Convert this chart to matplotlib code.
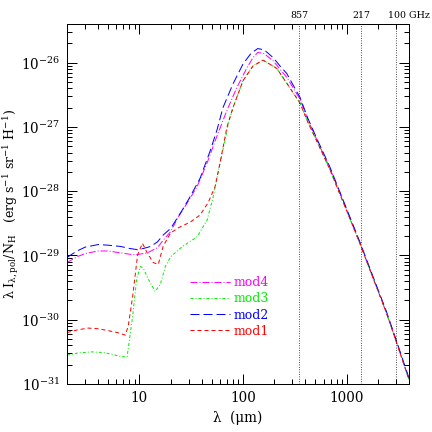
import numpy as np
import matplotlib
matplotlib.use("Agg")
import matplotlib.pyplot as plt
from matplotlib.ticker import LogLocator, FixedLocator, FixedFormatter, NullFormatter

plt.rcParams['font.family'] = ['DejaVu Serif']
plt.rcParams['mathtext.fontset'] = 'dejavuserif'

# ---- data (log10 of lambda*I / N_H) ----
lam_mod2 = [2.0, 2.5, 3.0, 4.0, 5.0, 6.6, 8.0, 9.6, 11.0, 12.8, 14.9, 17.0, 20.0, 26.0, 30.0, 38.5, 48.0, 56.0,
            64.0, 80.0, 100, 120, 139, 160, 195, 230, 265, 300, 355, 421, 515, 684, 915, 1335, 1780, 2420, 3030, 4000]
log_mod2 = [-29.03, -28.93, -28.87, -28.83, -28.84, -28.86, -28.89, -28.91, -28.89, -28.86, -28.79, -28.68, -28.58,
            -28.29, -28.12, -27.80, -27.38, -27.05, -26.70, -26.33, -26.02, -25.85, -25.78, -25.80, -25.92, -26.06,
            -26.17, -26.33, -26.54, -26.86, -27.18, -27.61, -28.12, -28.78, -29.31, -29.87, -30.33, -30.91]

lam_mod4 = [2.0, 2.5, 3.0, 4.0, 5.0, 6.6, 8.0, 9.2, 11.9, 14.9, 17.0, 20.0, 23.7, 29.0, 36.0, 45.0, 54.0, 70.0, 87.0,
            109, 125, 139, 160, 195, 265, 355, 421, 515, 684, 915, 1335, 1780, 2420, 3030, 4000]
log_mod4 = [-29.11, -29.02, -28.97, -28.93, -28.93, -28.96, -28.98, -28.99, -28.96, -28.88, -28.76, -28.63, -28.40,
            -28.18, -27.93, -27.56, -27.21, -26.74, -26.39, -26.08, -25.92, -25.84, -25.86, -25.97, -26.23, -26.57,
            -26.88, -27.20, -27.63, -28.13, -28.80, -29.33, -29.89, -30.35, -30.93]

lam_mod1 = [2.0, 2.5, 3.2, 4.0, 5.0, 6.15, 7.3, 7.8, 8.6, 9.6, 10.7, 11.9, 13.6, 15.2, 17.0, 20.0, 23.7, 31.0, 38.5,
            46.0, 53.7, 60.0, 70.0, 80.0, 100, 125, 156, 212, 283, 355, 421, 515, 684, 915, 1335, 1780, 2420, 3030, 4000]
log_mod1 = [-30.20, -30.16, -30.13, -30.14, -30.17, -30.20, -30.24, -30.10, -29.64, -28.99, -28.81, -28.96, -29.11,
            -29.14, -28.85, -28.65, -28.57, -28.48, -28.37, -28.18, -27.93, -27.56, -27.00, -26.70, -26.28, -26.05,
            -25.96, -26.09, -26.39, -26.63, -26.92, -27.22, -27.65, -28.15, -28.80, -29.33, -29.89, -30.35, -30.93]

lam_mod3 = [2.0, 2.5, 3.4, 4.5, 5.5, 6.5, 7.6, 8.6, 9.4, 10.2, 10.9, 12.2, 14.2, 15.9, 17.8, 20.0, 26.0, 36.0, 45.0,
            51.5, 60.0, 67.0, 72.0, 80.0, 100, 125, 156, 212, 283, 355, 421, 515, 684, 915, 1335, 1780, 2420, 3030, 4000]
log_mod3 = [-30.55, -30.52, -30.50, -30.51, -30.54, -30.57, -30.58, -29.95, -29.37, -29.17, -29.20, -29.37, -29.56,
            -29.45, -29.17, -29.02, -28.86, -28.71, -28.45, -28.09, -27.56, -27.21, -26.95, -26.70, -26.28, -26.05,
            -25.96, -26.09, -26.39, -26.63, -26.92, -27.22, -27.65, -28.15, -28.80, -29.33, -29.89, -30.35, -30.93]

freq_labels = ["857", "217", "100 GHz"]
freq_ghz = [857, 217, 100]

xtick_vals = [10, 100, 1000]
xtick_labels = ["10", "100", "1000"]
ytick_exps = [-31, -30, -29, -28, -27, -26]

# ---- figure ----
fig = plt.figure(figsize=(6, 6), dpi=72)
ax = fig.add_axes([67/432, 1-384/432, (409-67)/432, (384-24)/432])
ax.set_xscale('log')
ax.set_yscale('log')

ax.plot(lam_mod4, 10**np.array(log_mod4), color='#ff00ff', lw=1, ls=(0, (7, 2, 1, 2)), label='mod4')
ax.plot(lam_mod3, 10**np.array(log_mod3), color='#00ee00', lw=1, ls=(0, (3, 2, 1, 2)), label='mod3')
ax.plot(lam_mod2, 10**np.array(log_mod2), color='#0000ff', lw=1, ls=(0, (9, 4)), label='mod2')
ax.plot(lam_mod1, 10**np.array(log_mod1), color='#ff0000', lw=1, ls=(0, (4, 3)), label='mod1')

c_um = 2.998e5  # c in um*GHz
for f, lab in zip(freq_ghz, freq_labels):
    lam = c_um / f
    ax.axvline(lam, color='black', lw=0.8, ls=(0, (1, 2)))
    if lab.endswith('GHz'):
        ax.annotate(lab, xy=(lam, 1), xycoords=('data', 'axes fraction'), xytext=(-8, 4),
                    textcoords='offset points', ha='left', va='bottom', fontsize=9.5)
    else:
        ax.annotate(lab, xy=(lam, 1), xycoords=('data', 'axes fraction'), xytext=(0, 4),
                    textcoords='offset points', ha='center', va='bottom', fontsize=9.5)

ax.set_xlim(2, 4000)
ax.set_ylim(1e-31, 4e-26)

ax.xaxis.set_major_locator(FixedLocator(xtick_vals))
ax.xaxis.set_major_formatter(FixedFormatter(xtick_labels))
ax.xaxis.set_minor_locator(LogLocator(base=10, subs=np.arange(2, 10), numticks=20))
ax.xaxis.set_minor_formatter(NullFormatter())
ax.yaxis.set_major_locator(FixedLocator([10.0**e for e in ytick_exps]))
ax.yaxis.set_major_formatter(FixedFormatter([r'$10^{%d}$' % e for e in ytick_exps]))
ax.yaxis.set_minor_locator(LogLocator(base=10, subs=np.arange(2, 10), numticks=20))
ax.yaxis.set_minor_formatter(NullFormatter())

ax.tick_params(which='both', direction='in', top=True, right=True, width=1)
ax.tick_params(which='major', length=10, labelsize=13.5, pad=7)
ax.tick_params(which='minor', length=5)
for s in ax.spines.values():
    s.set_linewidth(1)

ax.set_xlabel('λ  (μm)', fontsize=13.5, labelpad=6)
ax.set_ylabel(r'λ I$_{\mathrm{λ,pol}}$/N$_{\mathrm{H}}$   (erg s$^{-1}$ sr$^{-1}$ H$^{-1}$)',
              fontsize=12.5, labelpad=0)

leg = ax.legend(loc='upper left', bbox_to_anchor=(0.345, 0.313), frameon=False, fontsize=12.5,
                handlelength=3.2, handletextpad=0.25, labelspacing=0.25, labelcolor='linecolor',
                borderaxespad=0)

fig.savefig('out.png', dpi=72)
